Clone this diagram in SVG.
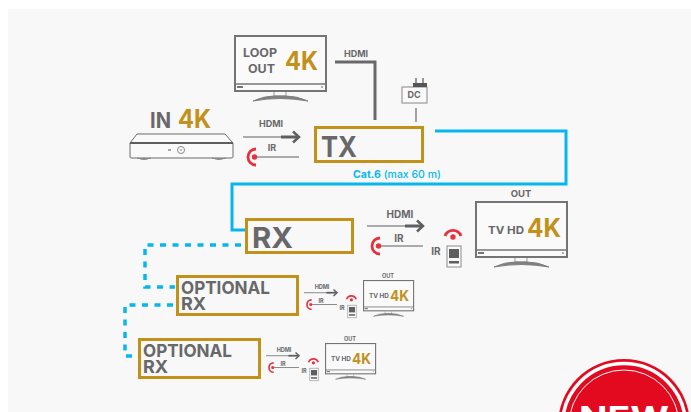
<svg xmlns="http://www.w3.org/2000/svg" width="691" height="412" viewBox="0 0 691 412">
<style>
text{font-family:Inter,"Liberation Sans",sans-serif;font-weight:700;fill:#68686a}
.gold{fill:#c19119}
.box{fill:none;stroke:#c19119;stroke-width:3}
.ln{fill:none;stroke:#68686a}
.cy{fill:none;stroke:#06b6ee;stroke-width:3}
.dash{fill:none;stroke:#06b6ee;stroke-width:3.500;stroke-dasharray:6 6.500}
</style>
<defs>
<g id="tv">
<rect x="1" y="1" width="91" height="55" fill="#fafafa" stroke="#747476" stroke-width="2"/>
<path d="M1 49H92" stroke="#747476" stroke-width="1.500"/>
<rect x="3" y="51" width="6" height="2" fill="#747476"/>
<circle cx="88" cy="52" r="1" fill="#999"/>
<path d="M40 57V61H52V57" fill="none" stroke="#999" stroke-width="1"/>
<path d="M19 66Q30 61 40 61H52Q63 61 74 66Q60 63.500 46 63.500Q33 63.500 19 66Z" fill="#808082" stroke="#808082" stroke-width="1"/>
</g>
<g id="link">
<path d="M0 8H44" stroke="#5f5f61" stroke-width="1.200"/>
<path d="M38 8H55" stroke="#5f5f61" stroke-width="3"/>
<path d="M50 2.500L56 8L50 13.500" fill="none" stroke="#5f5f61" stroke-width="2.500"/>
<circle cx="11.500" cy="28" r="2.700" fill="#e8303f"/>
<path d="M13 20A8 8 0 0 0 13 36" fill="none" stroke="#e8303f" stroke-width="2.800"/>
<path d="M14 28H56" stroke="#5f5f61" stroke-width="1.200"/>
</g>
<g id="remote">
<circle cx="9" cy="8" r="2.700" fill="#e8303f"/>
<path d="M1 7A8.500 8.500 0 0 1 17 7" fill="none" stroke="#e8303f" stroke-width="2.800"/>
<rect x="3" y="17" width="14" height="21" fill="#fafafa" stroke="#8a8a8a"/>
<rect x="5" y="20" width="10" height="9" fill="#5f5f61"/>
<rect x="5" y="32" width="10" height="2.500" fill="#5f5f61"/>
</g>
</defs>
<rect width="691" height="412" fill="#fff"/>
<rect x="8" y="9" width="683" height="403" fill="#f8f8f8"/>

<g id="connectors">
<path class="cy" d="M435 131H566V184H232V230H246"/>
<path class="dash" d="M241 245H145V287H175"/>
<path class="dash" d="M173 305H125V356H136"/>
<path d="M335 62H375V120" class="ln" stroke-width="3"/>
<path d="M416 108V122" class="ln" stroke-width="1.200"/>
<use href="#link" x="243" y="129"/>
<use href="#link" x="367" y="218"/>
<use href="#link" transform="translate(304 288) scale(.59)"/>
<use href="#link" transform="translate(266 351) scale(.59)"/>
</g>

<g id="tv-loop">
<use href="#tv" x="234" y="35"/>
<text x="243" y="57" font-size="12" textLength="34" lengthAdjust="spacingAndGlyphs">LOOP</text>
<text x="248" y="73" font-size="12" textLength="27" lengthAdjust="spacingAndGlyphs">OUT</text>
<text x="285" y="70" font-size="25" class="gold" textLength="33" lengthAdjust="spacingAndGlyphs">4K</text>
</g>
<text x="356" y="57" font-size="9" text-anchor="middle">HDMI</text>

<g id="source">
<text x="150" y="128" font-size="21" textLength="21" lengthAdjust="spacingAndGlyphs">IN</text>
<text x="178" y="128" font-size="25" class="gold" textLength="33" lengthAdjust="spacingAndGlyphs">4K</text>
<path d="M130 143L137 134H225L233 143V157Q233 158 231 158H132Q130 158 130 157Z" fill="#fafafa" stroke="#6a6a6a"/>
<path d="M130 143H233" stroke="#5f5f61" stroke-width="2"/>
<circle cx="181" cy="150" r="3.500" fill="none" stroke="#888"/>
<circle cx="181" cy="150" r=".8" fill="#666"/>
<path d="M168 150H171" stroke="#555" stroke-width="1"/>
<path d="M137 158Q144 161 151 158M212 158Q219 161 226 158" fill="#888" stroke="#888"/>
</g>
<text x="271" y="127" font-size="9" text-anchor="middle">HDMI</text>
<text x="272" y="151" font-size="9" text-anchor="middle">IR</text>

<g id="dc">
<rect x="402" y="87" width="25" height="16" fill="#fafafa" stroke="#9a9a9a" stroke-width="1.200"/>
<text x="414" y="98" font-size="9" text-anchor="middle">DC</text>
<rect x="413" y="83" width="14" height="4" fill="#555"/>
<path d="M416 78V83M423 78V83" stroke="#555" stroke-width="1.200"/>
</g>

<g id="tx">
<rect class="box" x="315.500" y="127.500" width="107" height="34"/>
<text x="321" y="157" font-size="29" textLength="36" lengthAdjust="spacingAndGlyphs">TX</text>
</g>
<text x="397" y="178" font-size="10.500" text-anchor="middle" style="fill:#06b6ee;font-weight:500"><tspan style="fill:#06b6ee;font-weight:700">Cat.6</tspan> (max 60 m)</text>

<g id="rx">
<rect class="box" x="246.500" y="219.500" width="106" height="33"/>
<text x="252" y="248" font-size="29" textLength="41" lengthAdjust="spacingAndGlyphs">RX</text>
</g>
<text x="400" y="218" font-size="10" text-anchor="middle">HDMI</text>
<text x="399" y="242" font-size="10" text-anchor="middle">IR</text>
<text x="436" y="255" font-size="10" text-anchor="middle">IR</text>
<use href="#remote" x="444" y="229"/>
<g id="tv-out">
<text x="521" y="197" font-size="9.500" text-anchor="middle">OUT</text>
<use href="#tv" x="475" y="201"/>
<text x="488" y="234" font-size="11" textLength="36" lengthAdjust="spacingAndGlyphs">TV HD</text>
<text x="527" y="237" font-size="25" class="gold" textLength="34" lengthAdjust="spacingAndGlyphs">4K</text>
</g>

<g id="optional-rx-1">
<rect class="box" x="177.500" y="276.500" width="120" height="38"/>
<text font-size="18"><tspan x="181" y="294" textLength="89" lengthAdjust="spacingAndGlyphs">OPTIONAL</tspan><tspan x="181" y="309.500">RX</tspan></text>
</g>
<text x="322" y="289" font-size="5.500" text-anchor="middle">HDMI</text>
<text x="321" y="303" font-size="5.500" text-anchor="middle">IR</text>
<text x="342" y="310" font-size="5.500" text-anchor="middle">IR</text>
<use href="#remote" transform="translate(346 295) scale(.6)"/>
<g id="tv-out-1">
<text x="388" y="278" font-size="5.500" text-anchor="middle">OUT</text>
<use href="#tv" transform="translate(363 280) scale(.55)"/>
<text x="369" y="298" font-size="6.500" textLength="20" lengthAdjust="spacingAndGlyphs">TV HD</text>
<text x="390" y="301" font-size="14" class="gold" textLength="19" lengthAdjust="spacingAndGlyphs">4K</text>
</g>

<g id="optional-rx-2">
<rect class="box" x="139.500" y="339.500" width="120" height="38"/>
<text font-size="18"><tspan x="143" y="357" textLength="89" lengthAdjust="spacingAndGlyphs">OPTIONAL</tspan><tspan x="143" y="372.500">RX</tspan></text>
</g>
<text x="284" y="352" font-size="5.500" text-anchor="middle">HDMI</text>
<text x="283" y="366" font-size="5.500" text-anchor="middle">IR</text>
<text x="304" y="373" font-size="5.500" text-anchor="middle">IR</text>
<use href="#remote" transform="translate(308 358) scale(.6)"/>
<g id="tv-out-2">
<text x="350" y="341" font-size="5.500" text-anchor="middle">OUT</text>
<use href="#tv" transform="translate(325 343) scale(.55)"/>
<text x="331" y="361" font-size="6.500" textLength="20" lengthAdjust="spacingAndGlyphs">TV HD</text>
<text x="352" y="364" font-size="14" class="gold" textLength="19" lengthAdjust="spacingAndGlyphs">4K</text>
</g>

<g id="badge">
<circle cx="624" cy="425" r="66" fill="#e30a20"/>
<circle cx="624" cy="425" r="61.500" fill="none" stroke="#fff" stroke-width="3.500"/>
<circle cx="624" cy="425" r="55" fill="none" stroke="#fff" stroke-width="1"/>
<text x="579" y="428" font-size="30" style="fill:#fff" textLength="90" lengthAdjust="spacingAndGlyphs">NEW</text>
</g>
</svg>
